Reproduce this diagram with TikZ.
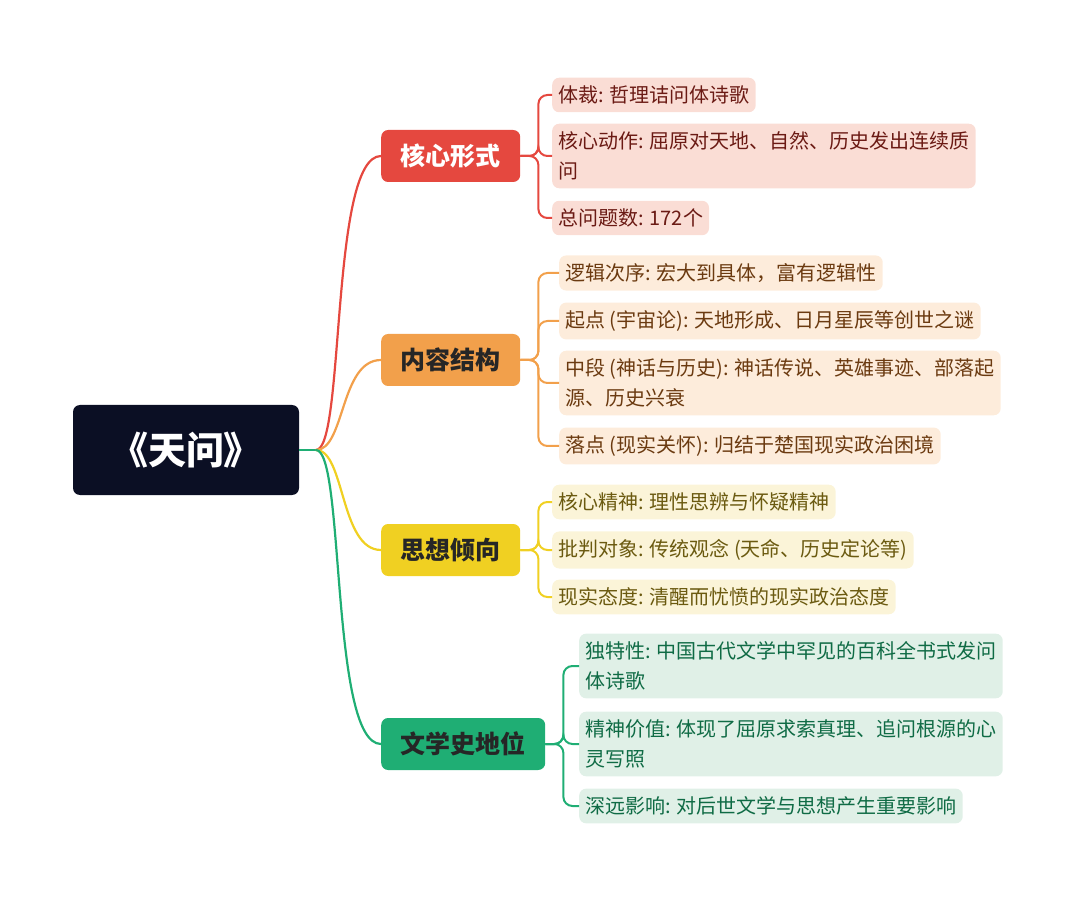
\documentclass[tikz,border=0pt]{standalone}
\usepackage{fontspec}
\setmainfont{Noto Sans CJK SC}
\definecolor{rootc}{HTML}{0B0F24}
\definecolor{redc}{HTML}{E5483F}\definecolor{redl}{HTML}{FADDD5}\definecolor{redt}{HTML}{6B1A14}
\definecolor{orc}{HTML}{F2A04B}\definecolor{orl}{HTML}{FDECDB}\definecolor{ort}{HTML}{6B3A10}
\definecolor{yec}{HTML}{F0D022}\definecolor{yel}{HTML}{FBF4D8}\definecolor{yet}{HTML}{6B5A10}
\definecolor{grc}{HTML}{1FAE74}\definecolor{grl}{HTML}{E0F0E7}\definecolor{grt}{HTML}{0F6B45}
\tikzset{
 br/.style={rounded corners=7pt,minimum height=52pt,inner xsep=19.5pt,anchor=west,font=\fontsize{25}{28}\selectfont\bfseries},
 lf/.style={rounded corners=7pt,inner xsep=6pt,inner ysep=8pt,anchor=west,align=left,font=\fontsize{20}{30}\selectfont},
 con/.style={line width=2.2pt},
 lk/.style={line width=2pt,rounded corners=9pt}
}
\begin{document}
\begin{tikzpicture}[x=1pt,y=-1pt]
\useasboundingbox (0,0) rectangle (1080,901);
\node[fill=rootc,text=white,rounded corners=7pt,minimum width=226pt,minimum height=90pt,font=\fontsize{38}{40}\selectfont\bfseries] (root) at (186,450) {《天问》};
\node[br,fill=redc,text=white] (b1) at (381,156) {核心形式};
\node[br,fill=orc,text=black!85] (b2) at (381,360) {内容结构};
\node[br,fill=yec,text=black!85] (b3) at (381,550) {思想倾向};
\node[br,fill=grc,text=black!85] (b4) at (381,744) {文学史地位};
\coordinate (r) at (316,450);
\draw[con,grc] (root.east) -- (r);
\draw[con,redc] (r) .. controls (345,450) and (330,156) .. (b1.west);
\draw[con,orc] (r) .. controls (345,450) and (340,360) .. (b2.west);
\draw[con,yec] (r) .. controls (345,450) and (340,550) .. (b3.west);
\draw[con,grc] (r) .. controls (345,450) and (330,744) .. (b4.west);
% red
\node[lf,fill=redl,text=redt] (a1) at (552,95) {体裁: 哲理诘问体诗歌};
\node[lf,fill=redl,text=redt] (a2) at (552,156) {核心动作: 屈原对天地、自然、历史发出连续质\\问};
\node[lf,fill=redl,text=redt] (a3) at (552,218) {总问题数: 172个};
\foreach \n in {a1,a2,a3} \draw[lk,redc] (b1.east) -- ++(18,0) |- (\n.west);
% orange
\node[lf,fill=orl,text=ort] (c1) at (559,273) {逻辑次序: 宏大到具体，富有逻辑性};
\node[lf,fill=orl,text=ort] (c2) at (559,321) {起点 (宇宙论): 天地形成、日月星辰等创世之谜};
\node[lf,fill=orl,text=ort] (c3) at (559,383) {中段 (神话与历史): 神话传说、英雄事迹、部落起\\源、历史兴衰};
\node[lf,fill=orl,text=ort] (c4) at (559,446) {落点 (现实关怀): 归结于楚国现实政治困境};
\foreach \n in {c1,c2,c3,c4} \draw[lk,orc] (b2.east) -- ++(18,0) |- (\n.west);
% yellow
\node[lf,fill=yel,text=yet] (d1) at (552,502) {核心精神: 理性思辨与怀疑精神};
\node[lf,fill=yel,text=yet] (d2) at (552,550) {批判对象: 传统观念 (天命、历史定论等)};
\node[lf,fill=yel,text=yet] (d3) at (552,597) {现实态度: 清醒而忧愤的现实政治态度};
\foreach \n in {d1,d2,d3} \draw[lk,yec] (b3.east) -- ++(18,0) |- (\n.west);
% green
\node[lf,fill=grl,text=grt] (e1) at (579,666) {独特性: 中国古代文学中罕见的百科全书式发问\\体诗歌};
\node[lf,fill=grl,text=grt] (e2) at (579,744) {精神价值: 体现了屈原求索真理、追问根源的心\\灵写照};
\node[lf,fill=grl,text=grt] (e3) at (579,806) {深远影响: 对后世文学与思想产生重要影响};
\foreach \n in {e1,e2,e3} \draw[lk,grc] (b4.east) -- ++(18,0) |- (\n.west);
\end{tikzpicture}
\end{document}
